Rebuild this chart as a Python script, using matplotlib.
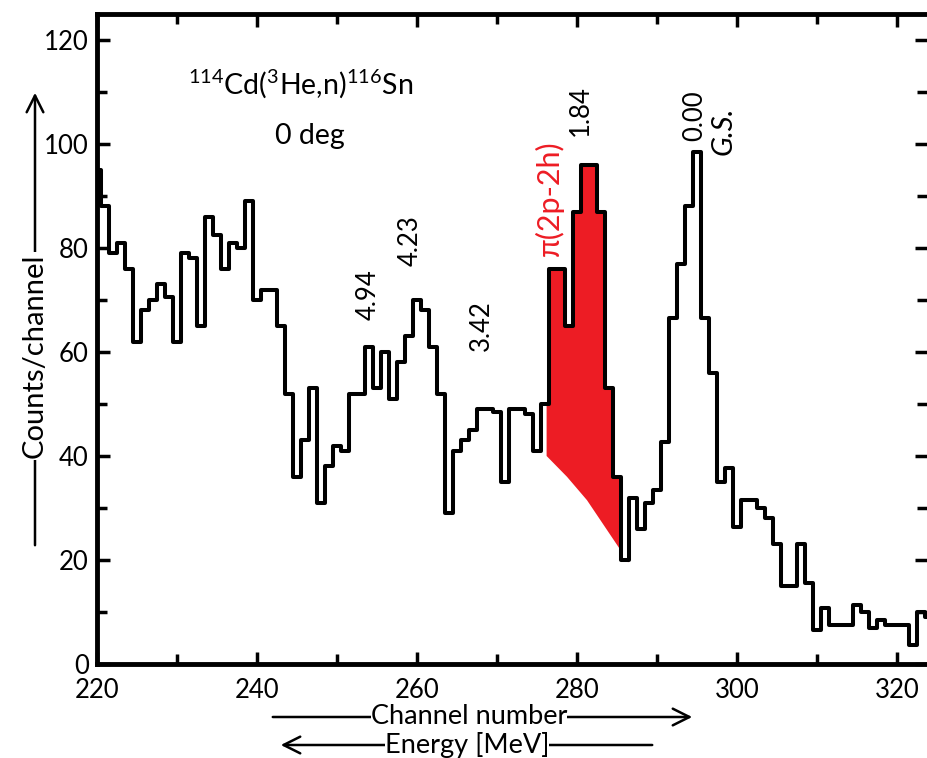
import numpy as np
import matplotlib
matplotlib.use("Agg")
import matplotlib.pyplot as plt

plt.rcParams['font.family'] = ['Lato', 'DejaVu Sans']
plt.rcParams['mathtext.fontset'] = 'custom'
plt.rcParams['mathtext.rm'] = 'Lato'

# spectrum: counts per channel, channels 220..324
channels = np.arange(220, 325)
counts = [
    95, 88, 79, 81, 76, 62, 68, 70, 73, 70.5,   # 220-229
    62, 79, 78, 65, 86, 82.5, 76, 81, 80, 89,   # 230-239
    70, 72, 72, 65, 52, 36, 43, 53, 31, 38,     # 240-249
    42, 41, 52, 52, 61, 53, 60, 51, 58, 63,     # 250-259
    70, 68, 61, 52, 29, 41, 43, 45, 49, 49,     # 260-269
    48.5, 35, 49, 49, 48, 41, 50, 76, 76, 65,   # 270-279
    87, 96, 96, 87, 53, 36, 20, 32, 26, 31,     # 280-289
    33.5, 42.7, 66.5, 77, 88, 98.5, 66.5, 56, 35, 37.7,  # 290-299
    26.3, 31.5, 31.5, 30, 28, 23, 15, 15, 23, 15.6,      # 300-309
    6.5, 10.8, 7.5, 7.5, 7.5, 11.3, 10, 7, 8.5, 7.5,     # 310-319
    7.5, 7.5, 3.7, 10, 9,                                # 320-324
]
counts = np.array(counts, dtype=float)

# background under the pi(2p-2h) bump
bg_channels = [276.2, 278.75, 281.25, 285.4, 286.4]
bg_counts = [40, 36, 31.5, 22, 19.5]

# level labels: (text, channel, counts)
levels = [
    ("4.94", 253.9, 71),
    ("4.23", 259.1, 81.5),
    ("3.42", 268.1, 65),
    ("1.84", 280.4, 106.5),
    ("0.00", 294.75, 105.5),
]

red = '#ED1C24'

fig = plt.figure(figsize=(9.27, 7.58), dpi=100)
ax = fig.add_axes([97 / 927, 94 / 758, 830 / 927, 650 / 758])

ax.step(channels, counts, where='mid', color='black', lw=2.9, zorder=3)

fx = np.linspace(bg_channels[0], bg_channels[-1], 3000)
top = counts[np.clip(np.round(fx).astype(int) - 220, 0, len(counts) - 1)]
base = np.interp(fx, bg_channels, bg_counts)
ax.fill_between(fx, base, top, where=top > base, color=red, lw=0, zorder=2)

ax.set_xlim(220, 323.75)
ax.set_ylim(0, 125)
ax.set_xticks(range(220, 330, 20))
ax.set_xticks(range(230, 330, 20), minor=True)
ax.set_yticks(range(0, 121, 20))
ax.set_yticks(range(10, 125, 20), minor=True)
ax.tick_params(which='both', direction='in', top=True, right=True,
               width=2.5, labelsize=18.5)
ax.tick_params(axis='x', pad=10)
ax.tick_params(axis='y', pad=6)
ax.tick_params(which='major', length=9)
ax.tick_params(which='minor', length=7)
for side in ['left', 'bottom', 'top']:
    ax.spines[side].set_linewidth(3.5)
ax.spines['right'].set_visible(False)

ax.text(245.4, 111.5, r"$^{114}$Cd($^{3}$He,n)$^{116}$Sn", fontsize=20.5,
        ha='center', va='center')
ax.text(246.6, 101.5, "0 deg", fontsize=20.5, ha='center', va='center')

for txt, ch, c in levels:
    ax.text(ch, c, txt, rotation=90, fontsize=18.5, ha='center', va='center')
ax.text(298.3, 102.5, "G.S.", rotation=90, fontsize=21, style='italic',
        ha='center', va='center')
ax.text(276.6, 89.5, "π(2p-2h)", rotation=90, fontsize=22, color=red,
        ha='center', va='center')

# axis titles with arrows drawn in figure coordinates
arrow = dict(arrowstyle='->', lw=1.8, color='black', mutation_scale=30)
ax.annotate('', xy=(35 / 927, 1 - 90 / 758), xytext=(35 / 927, 1 - 548 / 758),
            xycoords='figure fraction', textcoords='figure fraction',
            arrowprops=arrow, annotation_clip=False)
fig.text(35 / 927, 1 - 356 / 758, "Counts/channel", rotation=90, fontsize=21,
         ha='center', va='center',
         bbox=dict(facecolor='white', edgecolor='none', pad=1))

ax.annotate('', xy=(695 / 927, 1 - 717 / 758), xytext=(270 / 927, 1 - 717 / 758),
            xycoords='figure fraction', textcoords='figure fraction',
            arrowprops=arrow, annotation_clip=False)
fig.text(469 / 927, 1 - 717 / 758, "Channel number", fontsize=19.5,
         ha='center', va='center',
         bbox=dict(facecolor='white', edgecolor='none', pad=0))

ax.annotate('', xy=(278 / 927, 1 - 745 / 758), xytext=(655 / 927, 1 - 745 / 758),
            xycoords='figure fraction', textcoords='figure fraction',
            arrowprops=arrow, annotation_clip=False)
fig.text(467 / 927, 1 - 745 / 758, "Energy [MeV]", fontsize=19.5,
         ha='center', va='center',
         bbox=dict(facecolor='white', edgecolor='none', pad=0))

fig.savefig("out.png", dpi=100)
